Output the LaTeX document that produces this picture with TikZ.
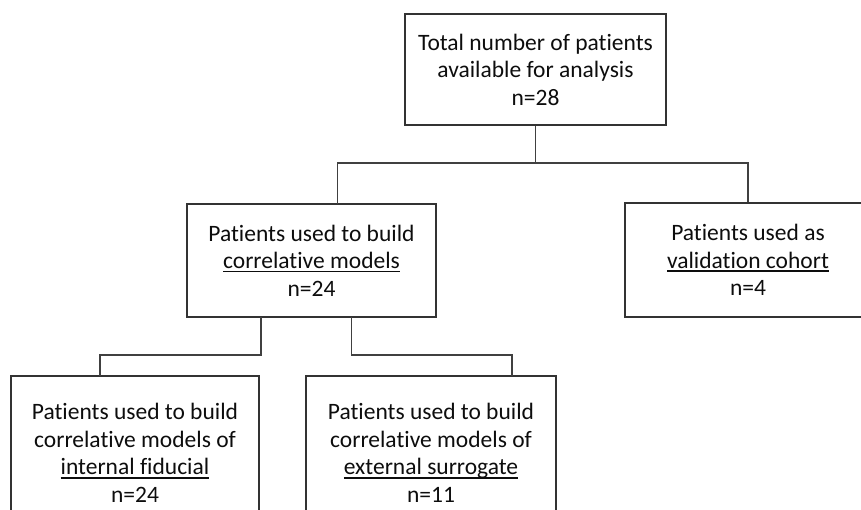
\documentclass[tikz,border=0pt]{standalone}
\usepackage{fontspec}
\setmainfont{Carlito}[Ligatures={NoCommon}]
\newcommand\ulx[1]{\leavevmode\setbox0\hbox{#1}\rlap{\rule[-3.6pt]{\wd0}{1.4pt}}\box0}
\begin{document}
\begin{tikzpicture}[x=1pt,y=-1pt,
  box/.style={draw=black!80,line width=1.5pt,rectangle,inner sep=0pt,align=center,
    text=black!95,font=\fontsize{23.5pt}{27.5pt}\selectfont},
  conn/.style={draw=black!75,line width=1.4pt}]
\useasboundingbox (0,0) rectangle (861,509);
\clip (0,0) rectangle (861,509);
\node[box,minimum width=261pt,minimum height=111pt] (top) at (535.5,69.5)
  {Total number of patients\\available for analysis\\n=28};
\node[box,minimum width=249pt,minimum height=113pt] (mid) at (311.5,260.5)
  {Patients used to build\\\ulx{correlative models}\\n=24};
\node[box,minimum width=246pt,minimum height=114pt] (rb) at (748,260)
  {Patients used as\\\ulx{validation cohort}\\n=4};
\node[box,minimum width=248pt,minimum height=154pt] (bl) at (135,453)
  {Patients used to build\\correlative models of\\\ulx{internal fiducial}\\n=24};
\node[box,minimum width=250pt,minimum height=154pt] (br) at (431,453)
  {Patients used to build\\correlative models of\\\ulx{external surrogate}\\n=11};
\coordinate (h1) at (535.5,163);
\coordinate (mtop) at (337.5,204);
\coordinate (mb1) at (261,317);
\coordinate (mb2) at (351.7,317);
\coordinate (k1) at (261,355);
\coordinate (k2) at (351.7,355);
\coordinate (bl1) at (100,376);
\coordinate (br1) at (512,376);
\draw[conn] (top.south) -- (h1);
\draw[conn] (mtop) |- (rb.north |- h1) -- (rb.north);
\draw[conn] (mb1) -- (k1) -| (bl1);
\draw[conn] (mb2) -- (k2) -| (br1);
\end{tikzpicture}
\end{document}
